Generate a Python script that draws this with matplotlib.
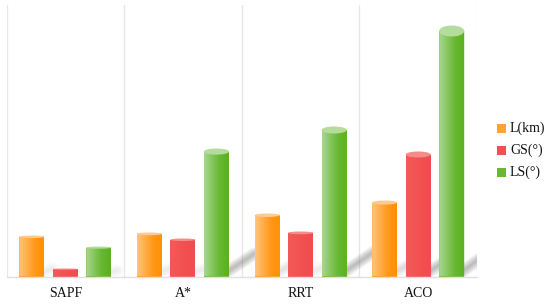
import numpy as np
import matplotlib
matplotlib.use("Agg")
import matplotlib.pyplot as plt
from matplotlib.colors import LinearSegmentedColormap
from matplotlib.patches import Ellipse, PathPatch, Rectangle
from matplotlib.path import Path

categories = ["SAPF", "A*", "RRT", "ACO"]
series_names = ["L(km)", "GS(°)", "LS(°)"]
l_km = [41, 44, 63, 76]
gs_deg = [8, 38, 45, 125]
ls_deg = [30, 128, 150, 251]

plt.rcParams["font.family"] = ["Liberation Serif", "DejaVu Serif"]

W, H = 550, 304
fig = plt.figure(figsize=(W / 100, H / 100), dpi=100, facecolor="white")
L, R, T, B = 6.5, 477, 5, 276.5
ax = fig.add_axes([L / W, 1 - B / H, (R - L) / W, (B - T) / H])
ax.set_xlim(-0.5, 3.5)
ax.set_ylim(0, B - T)
PX = 4 / (R - L)   # x units per pixel

styles = [
    dict(left="#ffc47c", mid="#ff9a1c", right="#ff9000", cap="#ffca8e"),
    dict(left="#f25a58", mid="#f25050", right="#f04e4e", cap="#f58c8a"),
    dict(left="#a8d690", mid="#68b832", right="#5bb01c", cap="#b4dc9c"),
]
offsets = [-33.5 * PX, 0, 33.5 * PX]
width = 25 * PX
x = np.arange(len(categories))

ax.set_facecolor("white")
for s in ax.spines.values():
    s.set_visible(False)
ax.spines["bottom"].set_visible(True)
ax.spines["bottom"].set_color("#e0e0e0")
ax.spines["bottom"].set_linewidth(1.0)
ax.set_xticks(x, categories, fontsize=10, color="#111111")
ax.tick_params(axis="x", length=0, pad=7.5)
ax.set_yticks([])
for v in np.arange(-0.5, 3.6, 1):
    ax.axvline(v, color="#e6e6e6", lw=0.9, zorder=1)

values = [l_km, gs_deg, ls_deg]

# soft shadows behind the bars
for vals, off in zip(values, offsets):
    for xi, h in zip(x, vals):
        reach = 0.2 * h
        strength = min(1.0, (h / 120) ** 1.5)
        x0 = xi + off
        xs = [x0 + 8 * PX, x0 + 12.5 * PX + reach * PX]
        ys = [3, 1 + reach * 0.85]
        for lw in np.linspace(1, 13, 10):
            ax.plot(xs, ys, color="#666666", alpha=0.05 * strength, lw=lw * 0.72,
                    solid_capstyle="round", zorder=1.5)

# cylinders
for vals, off, st, name in zip(values, offsets, styles, series_names):
    cmap = LinearSegmentedColormap.from_list(
        name, [(0, st["left"]), (0.62, st["mid"]), (1, st["right"])])
    bars = ax.bar(x + off, vals, width, color=st["mid"], label=name, zorder=2)
    for rect, h in zip(bars, vals):
        cap = 1 + 0.04 * h
        bot = 0.3 + 0.009 * h
        x0, w = rect.get_x(), rect.get_width()
        top = h - cap / 2
        rect.set_height(top)
        t = np.linspace(0, np.pi, 40)
        cx = x0 + w / 2
        xp = np.r_[cx - w / 2 * np.cos(t), cx + w / 2, cx - w / 2]
        yp = np.r_[-bot * np.sin(t), top, top]
        body = Path(np.c_[xp, yp])
        grad = np.linspace(0, 1, 64).reshape(1, -1)
        im = ax.imshow(grad, cmap=cmap, aspect="auto", zorder=3,
                       extent=[x0, x0 + w, -bot - 1, top + 1], interpolation="bilinear")
        patch = PathPatch(body, transform=ax.transData, fc="none", ec="none")
        ax.add_patch(patch)
        im.set_clip_path(patch)
        ax.add_patch(Ellipse((cx, top), w, cap, fc=st["cap"], ec="none", zorder=4, clip_on=False))

ax.set_xlim(-0.5, 3.5)
ax.set_ylim(0, B - T)

# legend
for name, st, yc in zip(series_names, styles, [128, 150, 172]):
    fig.patches.append(Rectangle((497 / W, 1 - (yc + 4.5) / H), 9 / W, 9 / H, transform=fig.transFigure,
                                 fc=st["mid"] if name != "L(km)" else "#ffa42e", ec="none"))
    fig.text(510 / W, 1 - yc / H, name, fontsize=10, va="center", ha="left", color="#111111")

fig.savefig("out.png", dpi=100)
